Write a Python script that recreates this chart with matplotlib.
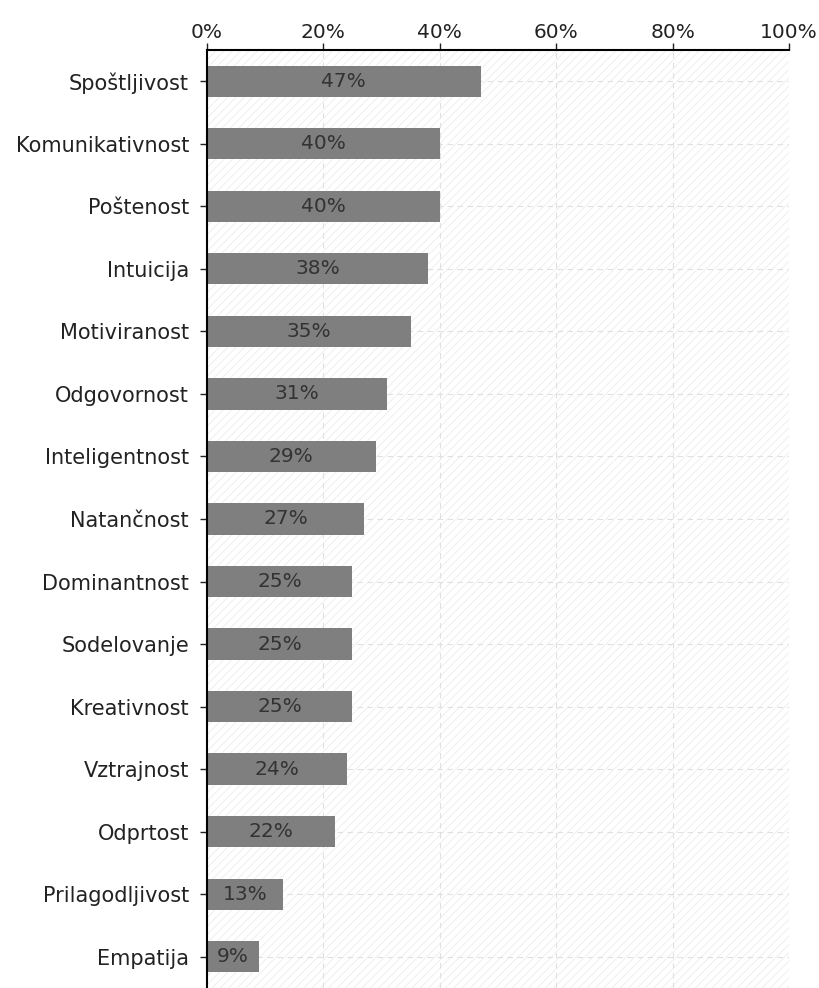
import matplotlib
matplotlib.use("Agg")
import matplotlib.pyplot as plt
from matplotlib.patches import Rectangle
from matplotlib.ticker import FuncFormatter, MultipleLocator

categories = ["Spoštljivost", "Komunikativnost", "Poštenost", "Intuicija",
              "Motiviranost", "Odgovornost", "Inteligentnost", "Natančnost",
              "Dominantnost", "Sodelovanje", "Kreativnost", "Vztrajnost",
              "Odprtost", "Prilagodljivost", "Empatija"]
values = [47, 40, 40, 38, 35, 31, 29, 27, 25, 25, 25, 24, 22, 13, 9]

plt.rcParams["font.family"] = ["DejaVu Sans"]
plt.rcParams["hatch.linewidth"] = 0.6
plt.rcParams["hatch.color"] = "#ececec"

FS = 14.5

fig = plt.figure(figsize=(8.19, 9.88), dpi=100)
ax = fig.add_axes([0.2527, 0.0, 0.7107, 0.9494])

ypos = list(range(len(categories)))
ax.set_ylim(len(categories) - 0.5, -0.5)
ax.set_xlim(0, 100)

# faint diagonal hatching over the plot area
ax.add_patch(Rectangle((0, 0), 1, 1, transform=ax.transAxes, facecolor="white",
                       edgecolor="#ececec", hatch="////", linewidth=0, zorder=0))

# dashed grid
for x in range(20, 101, 20):
    ax.axvline(x, color="#e0e0e0", lw=0.8, ls=(0, (5, 4)), zorder=1)
for y in ypos:
    ax.axhline(y, color="#e0e0e0", lw=0.8, ls=(0, (5, 4)), zorder=1)

ax.barh(ypos, values, height=0.5, color="#7f7f7f", zorder=2)
for y, v in zip(ypos, values):
    ax.text(v / 2, y, f"{v}%", ha="center", va="center", fontsize=FS,
            color="#333333", zorder=3)

ax.xaxis.set_major_locator(MultipleLocator(20))
ax.xaxis.set_major_formatter(FuncFormatter(lambda v, p: f"{int(v)}%"))
ax.xaxis.tick_top()
ax.set_yticks(ypos)
ax.set_yticklabels(categories)
ax.tick_params(axis="x", direction="out", length=5, width=1, labelsize=FS,
               colors="#222222", pad=1)
ax.tick_params(axis="y", direction="out", length=5, width=1, labelsize=15,
               colors="#222222", pad=8)

for s in ["right", "bottom"]:
    ax.spines[s].set_visible(False)
for s in ["top", "left"]:
    ax.spines[s].set_color("black")
    ax.spines[s].set_linewidth(1.5)

fig.savefig("out.png", dpi=100)
